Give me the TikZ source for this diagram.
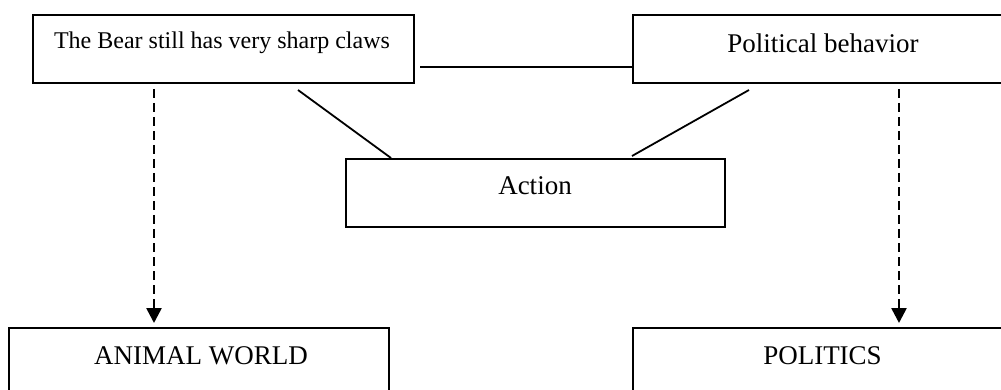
\documentclass[tikz,border=0pt]{standalone}
\usepackage{fontspec}
\setmainfont{Liberation Serif}
\usetikzlibrary{arrows.meta}
\begin{document}
\begin{tikzpicture}[x=1pt,y=-1pt,
  boxnode/.style={draw=black, line width=2pt, rectangle, inner sep=0pt,
    minimum width=#1, minimum height=68pt},
  boxtext/.style={anchor=base, inner sep=0pt, font=\fontsize{27}{30}\selectfont},
  smalltext/.style={anchor=base, inner sep=0pt, font=\fontsize{24}{28}\selectfont},
  link/.style={line width=1.8pt},
  maparrow/.style={line width=2.6pt, dash pattern=on 9pt off 5pt,
    -{Triangle[length=15pt,width=15pt]}}]
\useasboundingbox (0,0) rectangle (1001,390);

% boxes
\node[boxnode=381pt] (bear) at (223.5,49) {};
\node[boxnode=380pt] (pol) at (823,49) {};
\node[boxnode=379pt] (act) at (535.5,193) {};
\node[boxnode=380pt] (animal) at (199,362) {};
\node[boxnode=380pt] (politics) at (823,362) {};

% labels
\node[smalltext] (beart) at (222,49) {The Bear still has very sharp claws};
\node[boxtext] (polt) at (823,52.3) {Political behavior};
\node[boxtext] (actt) at (535,195) {Action};
\node[boxtext] (animalt) at (201,364) {ANIMAL WORLD};
\node[boxtext] (politicst) at (822.5,364) {POLITICS};

% plain links
\draw[link] ([shift={(5pt,17pt)}]bear.south east) -- ([yshift=17pt]pol.south west);
\draw[link] ([shift={(266pt,-6pt)}]bear.south west) -- ([xshift=46pt]act.north west);
\draw[link] ([shift={(117pt,-6pt)}]pol.south west) -- ([shift={(287pt,2pt)}]act.north west);

% mapping arrows
\draw[maparrow, shorten <=5pt, shorten >=4pt] ([xshift=122pt]bear.south west) -- ([xshift=146pt]animal.north west);
\draw[maparrow, shorten <=5pt, shorten >=4pt] ([xshift=267pt]pol.south west) -- ([xshift=267pt]politics.north west);
\end{tikzpicture}
\end{document}
